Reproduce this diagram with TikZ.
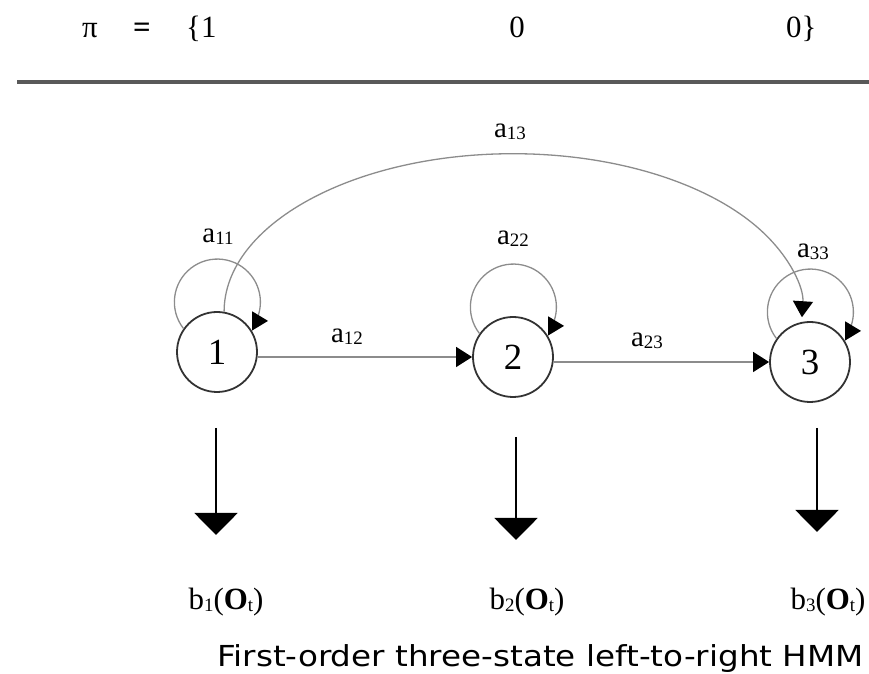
\documentclass[tikz,border=0pt]{standalone}
\usepackage{fontspec}
\setmainfont{Liberation Serif}
\newfontfamily\capfont{DejaVu Sans}
\usetikzlibrary{arrows.meta}
\newcommand{\subsc}[1]{\raisebox{-2bp}{\fontsize{19}{19}\selectfont #1}}
\begin{document}
\begin{tikzpicture}[x=1bp,y=1bp,
  state/.style={circle, draw=black!80, line width=1.8bp, minimum size=80bp, inner sep=0pt, font=\fontsize{37}{37}\selectfont},
  conn/.style={draw=black!45, line width=1.3bp, -{Triangle[length=16bp,width=20bp,color=black]}},
  loopc/.style={draw=black!45, line width=1.3bp, -{Triangle[length=16bp,width=19bp,color=black]}},
  emit/.style={draw=black, line width=2bp, -{Triangle[length=22bp,width=43bp]}},
  lbl/.style={inner sep=0pt, anchor=base, font=\fontsize{29}{29}\selectfont},
  toprow/.style={inner sep=0pt, anchor=base, font=\fontsize{31}{31}\selectfont},
  blbl/.style={inner sep=0pt, anchor=base, font=\fontsize{31}{31}\selectfont},
  captxt/.style={inner sep=0pt, anchor=base west, font=\capfont\fontsize{29}{29}\selectfont}]
\useasboundingbox (0,0) rectangle (869,674);

% top row
\node[toprow] (pi) at (90,636) {π};
\node[toprow] (eq) at (142,636) {\textbf{=}};
\node[toprow, anchor=base west] (p1) at (186,636) {\{1};
\node[toprow] (p2) at (517,636) {0};
\node[toprow, anchor=base west] (p3) at (786,636) {0\}};
\coordinate (hl) at (17,592);
\coordinate (hr) at (869,592);
\draw[line width=3.5bp, black!65] (hl) -- (hr);

% states
\node[state] (n1) at (217,322) {1};
\node[state] (n2) at (513,317) {2};
\node[state] (n3) at (810,312) {3};

% transitions
\draw[conn] (n1.east |- n2.west) -- (n2.west);
\draw[conn] (n2.east |- n3.west) -- (n3.west);
\draw[conn] (n1.80) arc[start angle=180, end angle=-2, x radius=289, y radius=158];

% self loops
\draw[loopc] (n1.145) arc[start angle=218, end angle=-26, radius=43] -- ++(12,0);
\draw[loopc] (n2.145) arc[start angle=218, end angle=-26, radius=43] -- ++(12,0);
\draw[loopc] (n3.145) arc[start angle=218, end angle=-26, radius=43] -- ++(12,0);

% labels
\node[lbl] (l11) at (218,431) {a\subsc{11}};
\node[lbl] (l12) at (347,331) {a\subsc{12}};
\node[lbl] (l22) at (513,429) {a\subsc{22}};
\node[lbl] (l23) at (647,327) {a\subsc{23}};
\node[lbl] (l33) at (813,416) {a\subsc{33}};
\node[lbl] (l13) at (510,536) {a\subsc{13}};

% emissions
\coordinate (e1s) at (216,246);
\coordinate (e1t) at (216,139);
\coordinate (e2s) at (516,237);
\coordinate (e2t) at (516,134);
\coordinate (e3s) at (817,246);
\coordinate (e3t) at (817,142);
\draw[emit] (e1s) -- (e1t);
\draw[emit] (e2s) -- (e2t);
\draw[emit] (e3s) -- (e3t);

\node[blbl] (b1) at (226,64) {b\subsc{1}(\textbf{O}\subsc{t})};
\node[blbl] (b2) at (527,64) {b\subsc{2}(\textbf{O}\subsc{t})};
\node[blbl] (b3) at (828,64) {b\subsc{3}(\textbf{O}\subsc{t})};

\node[captxt] (cap) at (217,7) {\scalebox{1.128}[1]{First-order three-state left-to-right HMM}};
\end{tikzpicture}
\end{document}
